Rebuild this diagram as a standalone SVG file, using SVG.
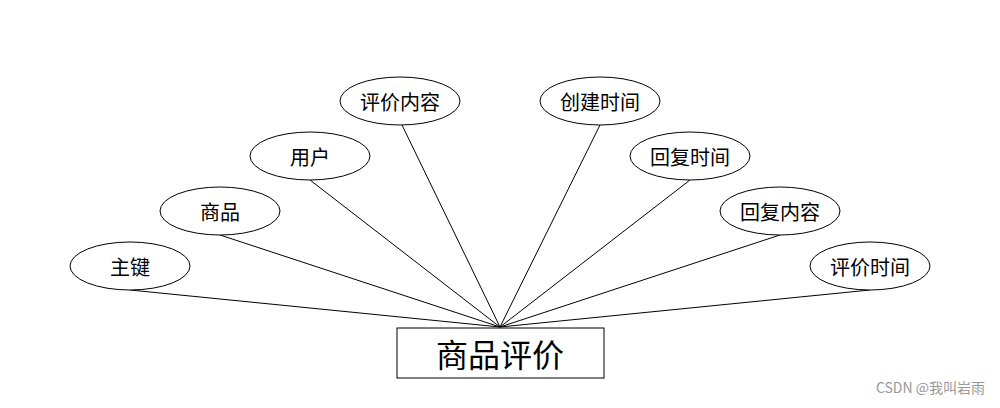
<svg xmlns="http://www.w3.org/2000/svg" width="1000" height="408" viewBox="0 0 1000 408">
<style>
.e{fill:#fff;stroke:#000;stroke-width:1}
.t{font-family:"Noto Sans CJK SC","Liberation Sans",sans-serif;font-size:20px;text-anchor:middle;dominant-baseline:central;fill:#000}
.c line{stroke:#000;stroke-width:1}
</style>
<rect width="1000" height="408" fill="#fff"/>
<g class="c" id="connectors">
<line x1="130" y1="290" x2="500" y2="327"/>
<line x1="220" y1="235" x2="500" y2="327"/>
<line x1="310" y1="180" x2="500" y2="327"/>
<line x1="402" y1="125" x2="500" y2="327"/>
<line x1="600" y1="125" x2="500" y2="327"/>
<line x1="690" y1="180" x2="500" y2="327"/>
<line x1="780" y1="235" x2="500" y2="327"/>
<line x1="870" y1="290" x2="500" y2="327"/>
</g>
<g id="n1"><ellipse class="e" cx="130" cy="266" rx="60" ry="24"/><text class="t" x="130" y="266">主键</text></g>
<g id="n2"><ellipse class="e" cx="220" cy="211" rx="60" ry="24"/><text class="t" x="220" y="211">商品</text></g>
<g id="n3"><ellipse class="e" cx="310" cy="156" rx="60" ry="24"/><text class="t" x="310" y="156">用户</text></g>
<g id="n4"><ellipse class="e" cx="400" cy="101" rx="60" ry="24"/><text class="t" x="400" y="101">评价内容</text></g>
<g id="n5"><ellipse class="e" cx="600" cy="101" rx="60" ry="24"/><text class="t" x="600" y="101">创建时间</text></g>
<g id="n6"><ellipse class="e" cx="690" cy="156" rx="60" ry="24"/><text class="t" x="690" y="156">回复时间</text></g>
<g id="n7"><ellipse class="e" cx="780" cy="211" rx="60" ry="24"/><text class="t" x="780" y="211">回复内容</text></g>
<g id="n8"><ellipse class="e" cx="870" cy="266" rx="60" ry="24"/><text class="t" x="870" y="266">评价时间</text></g>
<g id="main"><rect x="397" y="328" width="207" height="50" fill="#fff" stroke="#000"/><text class="t" x="500" y="353" style="font-size:32px">商品评价</text></g>
<text x="985" y="393" style="font-family:'Noto Sans CJK SC','Liberation Sans',sans-serif;font-size:14px;fill:#999;text-anchor:end">CSDN @我叫岩雨</text>
</svg>
